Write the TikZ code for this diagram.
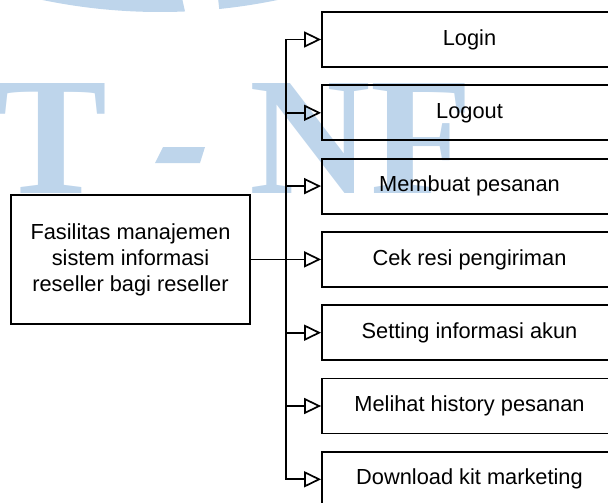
\documentclass[tikz,border=0pt]{standalone}
\usepackage{fontspec}
\setmainfont{Liberation Sans}
\newfontfamily\markfont{Liberation Serif}
\usetikzlibrary{arrows.meta}
\definecolor{markblue}{RGB}{190,213,235}

\begin{document}
\begin{tikzpicture}[x=1pt,y=-1pt,
  box/.style={draw, line width=1.8pt, minimum width=295pt, minimum height=55pt,
              inner sep=0pt, font=\fontsize{21.8}{26}\selectfont},
  link/.style={line width=1.7pt, -{Triangle[open, length=17pt, width=16pt]}},
  wmletter/.style={anchor=base west, inner sep=0pt, text=markblue,
                   font=\markfont\bfseries\fontsize{168}{168}\selectfont}
]
\useasboundingbox (0,0) rectangle (608,503);

% background watermark: ring segment and letters
\begin{scope}
  \clip (0,-2) -- (182,-2) -- (186,16) -- (0,16) -- cycle;
  \fill[markblue] (160,-564) circle[radius=576pt];
\end{scope}
\begin{scope}
  \clip (218,-2) -- (320,-2) -- (320,16) -- (220,16) -- cycle;
  \fill[markblue] (160,-564) circle[radius=576pt];
\end{scope}
\node[wmletter] (wmT) at (-5,193) {T};
\fill[markblue] (163,147) -- (205,147) -- (200,163) -- (155,163) -- cycle;
\node[wmletter] (wmN) at (249,193) {N};
\node[wmletter] (wmF) at (370,193) {F};

% source box
\node[box, minimum width=239pt, minimum height=129pt, align=center] (src) at (130.5,259.5)
  {Fasilitas manajemen\\sistem informasi\\reseller bagi reseller};

% facility boxes
\node[box] (login)   at (469.5,39.5)  {Login};
\node[box] (logout)  at (469.5,112.8) {Logout};
\node[box] (order)   at (469.5,186.1) {Membuat pesanan};
\node[box] (resi)    at (469.5,259.4) {Cek resi pengiriman};
\node[box] (akun)    at (469.5,332.7) {Setting informasi akun};
\node[box] (history) at (469.5,406.0) {Melihat history pesanan};
\node[box] (kit)     at (469.5,479.3) {Download kit marketing};

% bus connectors
\coordinate (bus) at (286,259.5);
\foreach \t in {login,logout,order,resi,akun,history,kit}
  \draw[link] (src.east) -- (bus) |- (\t.west);
\end{tikzpicture}
\end{document}
